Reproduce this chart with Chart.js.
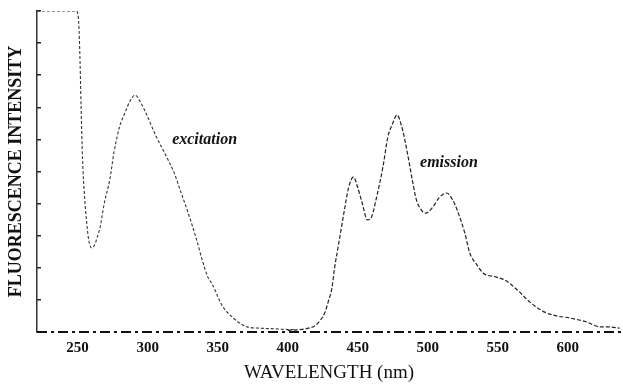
<!DOCTYPE html>
<html>
<head>
<meta charset="utf-8">
<title>Fluorescence spectrum</title>
<script src="https://cdn.jsdelivr.net/npm/chart.js@4"></script>
<style>
  html, body { margin: 0; padding: 0; background: #fff; }
  #wrap { width: 623px; height: 389px; }
</style>
</head>
<body>
<div id="wrap"><canvas id="spectrumChart"></canvas></div>
<script>
/* values */
const excitationNm = [221, 235, 249, 250.5, 251.5, 252.5, 253.5, 255, 256.5, 258, 260, 262, 264, 266, 269, 273, 276, 280, 284, 287.5, 291, 295, 299, 306, 313, 319, 323, 329, 335, 339, 343, 346, 353, 361, 371, 380, 390, 400, 406];
const excitationVal = [10, 10, 10, 9.8, 8.8, 7.0, 5.4, 4.2, 3.4, 2.85, 2.62, 2.7, 2.95, 3.25, 4.0, 4.75, 5.6, 6.4, 6.85, 7.2, 7.38, 7.15, 6.8, 6.1, 5.5, 4.95, 4.45, 3.7, 2.87, 2.24, 1.71, 1.5, 0.84, 0.44, 0.16, 0.12, 0.1, 0.08, 0.08];

const emissionNm = [400, 410, 415, 419, 423, 426.5, 429, 431.5, 433.5, 437, 440.5, 443.5, 447, 450, 453, 457, 460, 463.5, 468, 471.5, 475, 478, 482, 485.5, 489, 492, 495.5, 498.5, 503, 508.5, 513.5, 518, 521, 526.5, 530, 535, 539.5, 549, 555, 564, 573, 583.5, 592, 601, 613.5, 623, 629, 637];
const emissionVal = [0.05, 0.08, 0.12, 0.18, 0.35, 0.6, 0.95, 1.35, 2.0, 2.9, 3.8, 4.5, 4.83, 4.5, 4.05, 3.49, 3.6, 4.2, 5.14, 6.07, 6.5, 6.76, 6.3, 5.57, 4.73, 4.1, 3.8, 3.7, 3.86, 4.2, 4.33, 4.1, 3.8, 3.08, 2.46, 2.1, 1.84, 1.71, 1.62, 1.31, 0.93, 0.62, 0.5, 0.44, 0.31, 0.16, 0.16, 0.12];

const xTicks = [250, 300, 350, 400, 450, 500, 550, 600];
const yTicks = [0, 1, 2, 3, 4, 5, 6, 7, 8, 9, 10];

// curve labels, anchored in data units
const curveLabels = [
  { text: "excitation", nm: 317.5, val: 5.98 },
  { text: "emission", nm: 494.5, val: 5.26 }
];

const toPoints = (xs, ys) => xs.map((x, i) => ({ x: x, y: ys[i] }));

// dash-dot zero line along the bottom, like the recorder baseline
const baselinePlugin = {
  id: "baseline",
  beforeDatasetsDraw(chart) {
    const { ctx, chartArea, scales } = chart;
    const y = scales.y.getPixelForValue(0);
    ctx.save();
    ctx.strokeStyle = "#111";
    ctx.lineWidth = 1.8;
    ctx.setLineDash([10, 4, 3, 4]);
    ctx.beginPath();
    ctx.moveTo(chartArea.left, y);
    ctx.lineTo(chartArea.right, y);
    ctx.stroke();
    ctx.restore();
  }
};

const curveLabelPlugin = {
  id: "curveLabels",
  afterDatasetsDraw(chart) {
    const { ctx, scales } = chart;
    ctx.save();
    ctx.font = "italic bold 16px 'Liberation Serif', serif";
    ctx.fillStyle = "#111";
    ctx.textAlign = "left";
    ctx.textBaseline = "middle";
    curveLabels.forEach(l => {
      ctx.fillText(l.text, scales.x.getPixelForValue(l.nm), scales.y.getPixelForValue(l.val));
    });
    ctx.restore();
  }
};

new Chart(document.getElementById("spectrumChart"), {
  type: "line",
  data: {
    datasets: [
      {
        label: "excitation",
        data: toPoints(excitationNm, excitationVal),
        borderColor: "#333",
        borderWidth: 1.1,
        borderDash: [3, 2],
        pointRadius: 0,
        cubicInterpolationMode: "monotone"
      },
      {
        label: "emission",
        data: toPoints(emissionNm, emissionVal),
        borderColor: "#222",
        borderWidth: 1.2,
        borderDash: [4, 2],
        pointRadius: 0,
        cubicInterpolationMode: "monotone"
      }
    ]
  },
  options: {
    responsive: true,
    maintainAspectRatio: false,
    animation: false,
    layout: { padding: { top: 11, right: 2, left: 0, bottom: 0 } },
    plugins: {
      legend: { display: false },
      tooltip: { enabled: false }
    },
    scales: {
      x: {
        type: "linear",
        min: 221,
        max: 638,
        afterBuildTicks: scale => { scale.ticks = xTicks.map(v => ({ value: v })); },
        afterFit: scale => { scale.height = 57; },
        grid: { display: false, drawTicks: false },
        border: { display: false },
        ticks: {
          color: "#111",
          padding: 7,
          maxRotation: 0,
          font: { family: "'Liberation Serif', serif", size: 15, weight: "bold" }
        },
        title: {
          display: true,
          text: "WAVELENGTH (nm)",
          color: "#111",
          padding: { top: 0, bottom: 5 },
          font: { family: "'Liberation Serif', serif", size: 19 }
        }
      },
      y: {
        min: 0,
        max: 10,
        afterBuildTicks: scale => { scale.ticks = yTicks.map(v => ({ value: v })); },
        afterFit: scale => { scale.width = 37; },
        grid: { display: true, drawOnChartArea: false, drawTicks: true, tickLength: -4, color: "#222", lineWidth: 1.5 },
        border: { display: true, color: "#333", width: 1.5 },
        ticks: { display: false },
        title: {
          display: true,
          text: "FLUORESCENCE INTENSITY",
          color: "#111",
          padding: { top: 6, bottom: 0 },
          font: { family: "'Liberation Serif', serif", size: 18, weight: "bold" }
        }
      }
    }
  },
  plugins: [baselinePlugin, curveLabelPlugin]
});
</script>
</body>
</html>
